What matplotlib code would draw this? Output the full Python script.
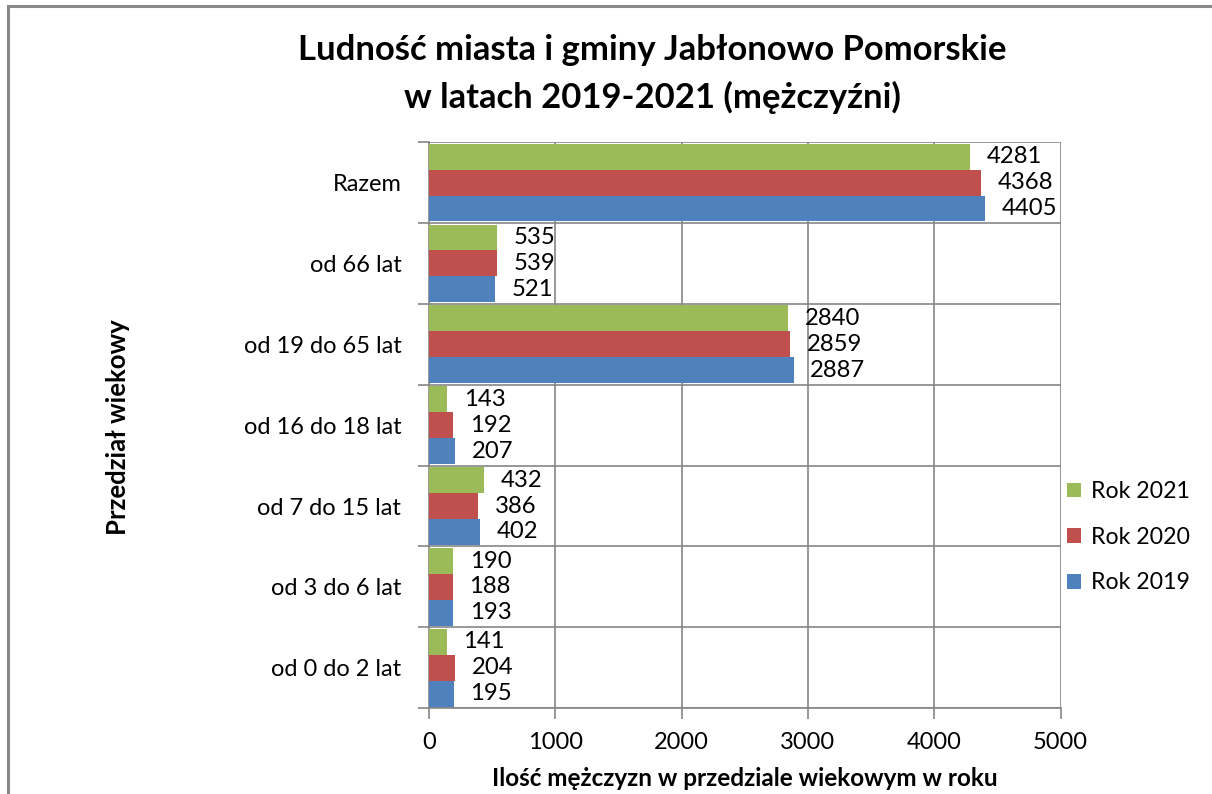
import matplotlib.pyplot as plt
import numpy as np
from matplotlib.patches import Rectangle

# data (bottom to top)
categories = ["od 0 do 2 lat", "od 3 do 6 lat", "od 7 do 15 lat", "od 16 do 18 lat",
              "od 19 do 65 lat", "od 66 lat", "Razem"]
rok_2019 = [195, 193, 402, 207, 2887, 521, 4405]
rok_2020 = [204, 188, 386, 192, 2859, 539, 4368]
rok_2021 = [141, 190, 432, 143, 2840, 535, 4281]
series_labels = ["Rok 2019", "Rok 2020", "Rok 2021"]
colors = ["#4F81BD", "#C0504D", "#9BBB59"]

plt.rcParams["font.family"] = ["Lato", "DejaVu Sans"]

fig = plt.figure(figsize=(12.12, 7.94), dpi=100)
ax = fig.add_axes([0.354, 0.108, 0.521, 0.713])

y = np.arange(len(categories))
h = 0.32
series = [rok_2019, rok_2020, rok_2021]
bars = []
for i, (vals, lab, col) in enumerate(zip(series, series_labels, colors)):
    b = ax.barh(y + (i - 1) * h, vals, height=h, color=col, label=lab, zorder=3)
    bars.append(b)
    for yy, v in zip(y + (i - 1) * h, vals):
        ax.annotate(str(v), (v, yy), xytext=(12, 0), textcoords="offset points",
                    ha="left", va="center", fontsize=17.2)

ax.set_xlim(0, 5000)
ax.set_ylim(-0.5, len(categories) - 0.5)
ax.set_xticks(np.arange(0, 5001, 1000))
ax.set_yticks(y)
ax.set_yticklabels(categories)
ax.set_yticks(np.arange(-0.5, len(categories), 1), minor=True)

grid_col = "#868686"
ax.grid(True, axis="x", which="major", color=grid_col, lw=1.2, zorder=0)
ax.grid(True, axis="y", which="minor", color=grid_col, lw=1.2, zorder=0)
ax.tick_params(axis="y", which="major", length=0, labelsize=17, pad=20)
ax.tick_params(axis="y", which="minor", length=8, color=grid_col, width=1.2)
ax.tick_params(axis="x", length=8, color=grid_col, width=1.2, labelsize=17, pad=9)
for s in ["top", "right"]:
    ax.spines[s].set_visible(False)
for s in ["left", "bottom"]:
    ax.spines[s].set_color(grid_col)
    ax.spines[s].set_linewidth(1.2)

ax.set_xlabel("Ilość mężczyzn w przedziale wiekowym w roku", fontsize=17.5,
              fontweight="bold", labelpad=10)
fig.text(0.097, 0.462, "Przedział wiekowy", rotation=90, fontsize=18.5,
         fontweight="bold", ha="center", va="center")

fig.text(0.538, 0.937, "Ludność miasta i gminy Jabłonowo Pomorskie", fontsize=24.9,
         fontweight="bold", ha="center", va="center")
fig.text(0.538, 0.877, "w latach 2019-2021 (mężczyźni)", fontsize=24.9,
         fontweight="bold", ha="center", va="center")

handles = [bars[2], bars[1], bars[0]]
ax.legend(handles, ["Rok 2021", "Rok 2020", "Rok 2019"], loc="center left",
          bbox_to_anchor=(0.977, 0.302), frameon=False, fontsize=16.7,
          handlelength=0.6, handleheight=0.6, handletextpad=0.45, labelspacing=1.06)

fig.add_artist(Rectangle((8 / 1212, -0.1), 1.1, 1.1 - 6 / 794,
                         transform=fig.transFigure, fill=False,
                         edgecolor="#888888", lw=2.2))

fig.savefig("out.png", dpi=100)
